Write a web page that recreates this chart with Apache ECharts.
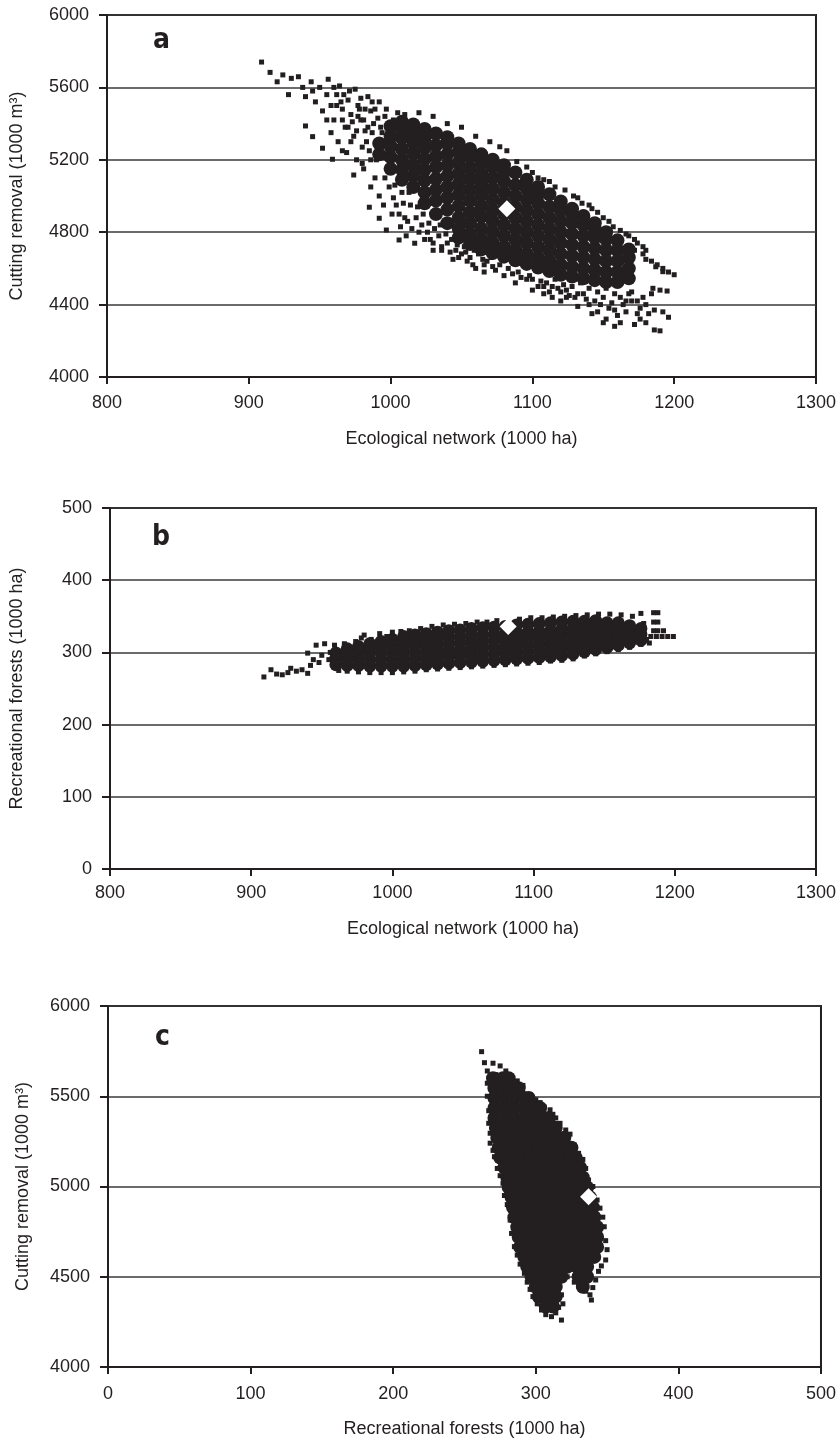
<!DOCTYPE html>
<html><head><meta charset="utf-8">
<script src="https://cdn.jsdelivr.net/npm/echarts@6/dist/echarts.min.js"></script>
<style>html,body{margin:0;padding:0;background:#fff}#c{width:839px;height:1441px}</style>
</head><body><div id="c"></div>
<script>
// ---------- tick labels ----------
const xTicksEco = [800, 900, 1000, 1100, 1200, 1300];
const yTicksCutA = [4000, 4400, 4800, 5200, 5600, 6000];
const yTicksRec = [0, 100, 200, 300, 400, 500];
const xTicksRec = [0, 100, 200, 300, 400, 500];
const yTicksCutC = [4000, 4500, 5000, 5500, 6000];
const panelLetters = ['a', 'b', 'c'];
const xNames = ['Ecological network (1000 ha)', 'Ecological network (1000 ha)', 'Recreational forests (1000 ha)'];
const yNames = ['Cutting removal (1000 m³)', 'Recreational forests (1000 ha)', 'Cutting removal (1000 m³)'];

// ---------- reference points (white diamonds) ----------
const refA = [[1082, 4930]];
const refB = [[1082, 336]];
const refC = [[337, 4943]];

// ---------- panel a : ecological network vs cutting removal ----------
// dense core, read column by column: [x, [y values]]
const aDenseCols = [
  [992, [5230, 5290]],
  [1000, [5150, 5215, 5275, 5330, 5385]],
  [1008, [5090, 5145, 5200, 5260, 5320, 5370, 5410]],
  [1016, [5050, 5110, 5170, 5235, 5295, 5350, 5395]],
  [1024, [4960, 5020, 5085, 5145, 5205, 5265, 5320, 5370]],
  [1032, [4900, 4975, 5035, 5095, 5160, 5220, 5280, 5345]],
  [1040, [4850, 4925, 4990, 5050, 5110, 5170, 5230, 5290, 5325]],
  [1048, [4770, 4820, 4880, 4945, 5005, 5065, 5125, 5185, 5245, 5290]],
  [1056, [4735, 4790, 4850, 4910, 4975, 5035, 5095, 5155, 5215, 5260]],
  [1064, [4705, 4760, 4820, 4885, 4945, 5005, 5065, 5125, 5185, 5230]],
  [1072, [4685, 4740, 4800, 4860, 4920, 4980, 5040, 5100, 5160, 5200]],
  [1080, [4665, 4720, 4780, 4840, 4900, 4960, 5020, 5080, 5130, 5170]],
  [1088, [4645, 4700, 4760, 4820, 4880, 4940, 5000, 5060, 5130]],
  [1096, [4625, 4680, 4740, 4800, 4860, 4920, 4980, 5040, 5090]],
  [1104, [4605, 4660, 4720, 4780, 4840, 4900, 4960, 5010, 5050]],
  [1112, [4585, 4640, 4700, 4760, 4820, 4880, 4940, 5010]],
  [1120, [4565, 4620, 4680, 4740, 4800, 4860, 4920, 4970]],
  [1128, [4555, 4610, 4670, 4730, 4790, 4850, 4900, 4930]],
  [1136, [4545, 4600, 4660, 4720, 4780, 4840, 4890]],
  [1144, [4535, 4590, 4650, 4710, 4770, 4820, 4850]],
  [1152, [4525, 4580, 4640, 4700, 4760, 4800]],
  [1160, [4525, 4580, 4640, 4700, 4755]],
  [1168, [4545, 4600, 4660, 4705]]
];
// scattered outer points
const aSparse = [
  [909,5740],[915,5683],[920,5631],[924,5669],[928,5560],[930,5650],[935,5659],[938,5600],[940,5549],[944,5631],
  [945,5580],[947,5520],[950,5600],[952,5470],[955,5560],[956,5645],[958,5500],[960,5420],[962,5560],[964,5608],
  [966,5480],[968,5380],[970,5530],[972,5450],[974,5330],[975,5590],[977,5500],[979,5420],[980,5270],[982,5360],
  [984,5549],[986,5470],[988,5400],[990,5300],[992,5520],[994,5220],[996,5440],[998,5160],[940,5387],[945,5328],
  [952,5264],[959,5203],[966,5250],[974,5116],[980,5180],[986,5050],[985,4938],[992,4877],[997,4812],[1002,4990],
  [1006,4757],[1010,4880],[1017,4739],[1020,4800],[1024,4760],[1030,4700],[1036,4720],[1044,4650],[1050,4680],
  [1058,4620],[1066,4580],[1072,4610],[1080,4560],[1088,4520],[1096,4540],[1100,4480],[1108,4460],[1114,4500],
  [1120,4420],[1126,4450],[1132,4390],[1138,4430],[1142,4350],[1148,4400],[1152,4320],[1158,4370],[1162,4300],
  [1166,4420],[1172,4290],[1176,4380],[1182,4350],[1186,4260],[1190,4255],[1196,4330],[1178,4440],[1170,4470],
  [1184,4460],[1190,4480],[1180,4650],[1184,4640],[1188,4620],[1192,4600],[1196,4580],[1200,4565],[1178,4680],
  [1172,4700],[1185,4490],[1195,4475],[1010,5450],[1020,5460],[1030,5440],[1040,5400],[1050,5380],[1060,5330],
  [1070,5300],[1077,5272],[1082,5250],[1089,5190],[1096,5160],[1104,5100],[1112,5080],[1123,5033],[1129,5000],
  [1135,4960],[1142,4930],[1150,4880],[1157,4830],[1162,4810],[1168,4780],[1174,4740],[1180,4700],[1187,4609],
  [1192,4582],[962,5500],[966,5420],[970,5380],[972,5300],[976,5360],[978,5480],[981,5420],[983,5300],[985,5250],
  [987,5350],[989,5480],[990,5200],[993,5380],[995,5300],[996,5100],[998,5250],[999,5050],[1002,5420],[1004,4950],
  [1006,4900],[1008,5020],[1012,4860],[1014,4950],[1018,4880],[1022,4840],[1026,4800],[1028,4760],[1034,4780],
  [1040,4740],[1046,4700],[1052,4720],[1056,4660],[1062,4680],[1068,4640],
  [955,5420],[958,5350],[960,5600],[963,5300],[965,5520],[967,5560],[969,5240],[971,5580],[973,5410],[976,5200],
  [977,5440],[979,5540],[981,5150],[982,5480],[984,5380],[986,5200],[987,5520],[989,5100],[991,5430],[992,5000],
  [994,5350],[995,4950],[997,5480],[999,5380],[1001,4900],[1003,5060],[1005,5460],[1007,4830],[1009,4960],[1011,4780],
  [1013,5020],[1015,4820],[1019,4940],[1023,4900],[1027,4850],[1031,4820],[1035,4840],[1039,4790],[1043,4760],[1047,4730],
  [1053,4690],[1059,4700],[1065,4650],[1071,4660],[1077,4620],[1083,4600],[1090,4580],[1098,4560],[1106,4530],[1112,4470],
  [1118,4490],[1124,4480],[1130,4440],[1136,4460],[1144,4420],[1150,4440],[1156,4410],[1164,4400],[1170,4420],[1174,4350],
  [1100,5130],[1108,5090],[1116,5050],[1132,4990],[1140,4950],[1146,4910],[1154,4860],[1166,4790],[1172,4760],[1178,4720],
  [1100,4540],[1104,4500],[1110,4520],[1116,4540],[1122,4510],[1128,4500],[1134,4520],[1140,4490],[1146,4470],[1152,4490],
  [1158,4460],[1162,4440],[1168,4460],[1174,4420],[1180,4400],[1186,4370],[1192,4360],[1124,4440],[1132,4460],[1140,4400],
  [1146,4360],[1154,4380],[1160,4340],[1166,4360],[1176,4320],[1180,4300],[1150,4300],[1158,4280],[1120,4470],[1114,4440],
  [1108,4500],[1092,4550],[1086,4570],[1074,4590],[1066,4620],[1060,4600],[1054,4640],[1048,4660],[1042,4690],[1036,4700],
  [1030,4740]
];

// ---------- panel b : ecological network vs recreational forests ----------
const bDenseCols = [
  [960, [283, 292, 299]],
  [968, [282, 291, 300, 305]],
  [976, [282, 291, 300, 308]],
  [984, [281, 290, 299, 307, 312]],
  [992, [281, 290, 299, 308, 315]],
  [1000, [281, 290, 299, 308, 318]],
  [1008, [281, 290, 299, 308, 316, 322]],
  [1016, [282, 291, 300, 309, 317, 324]],
  [1024, [283, 292, 301, 310, 318, 326]],
  [1032, [284, 293, 302, 311, 320, 328]],
  [1040, [285, 294, 303, 312, 321, 330]],
  [1048, [286, 295, 304, 313, 322, 331]],
  [1056, [287, 296, 305, 314, 323, 333]],
  [1064, [288, 297, 306, 315, 324, 334]],
  [1072, [289, 298, 307, 316, 325, 335]],
  [1080, [290, 299, 308, 317, 326, 336]],
  [1088, [291, 300, 309, 318, 327, 338]],
  [1096, [292, 301, 310, 319, 328, 339]],
  [1104, [293, 302, 311, 320, 329, 340]],
  [1112, [294, 303, 312, 321, 330, 341]],
  [1120, [296, 305, 314, 323, 332, 342]],
  [1128, [298, 307, 316, 325, 334, 343]],
  [1136, [301, 310, 319, 328, 336, 343]],
  [1144, [304, 313, 322, 331, 339, 344]],
  [1152, [307, 316, 325, 333, 341]],
  [1160, [310, 319, 327, 335, 341]],
  [1168, [313, 321, 329, 337]],
  [1176, [317, 325, 333]]
];
const bSparse = [
  [909,266],[914,276],[918,270],[922,269],[926,272],[928,278],[932,274],[936,276],[940,271],[940,299],
  [942,282],[946,310],[948,286],[952,312],[955,290],[959,310],[962,275],[966,312],[970,306],[974,315],
  [978,320],[980,324],[985,318],[991,326],[996,322],[1000,328],[1006,329],[1012,330],[1020,333],[1028,336],
  [1036,338],[1044,339],[1052,340],[1060,342],[1067,342],[1074,344],[1090,346],[1098,348],[1106,348],[1114,349],
  [1122,350],[1130,351],[1138,352],[1146,353],[1154,353],[1162,352],[1170,350],[1176,354],[1185,355],[1188,355],
  [1185,342],[1188,342],[1185,330],[1188,330],[1192,330],[1183,322],[1187,322],[1191,322],[1195,322],[1199,322],
  [1180,318],[1172,320],[1178,340],[1182,313],[968,274],[976,273],[984,272],[992,272],[1000,272],[1008,273],
  [1016,274],[1024,276],[1032,277],[1040,278],[1048,279],[1056,280],[1064,281],[1072,282],[1080,283],[1088,284],
  [1096,285],[1104,286],[1112,288],[1120,289],[1128,291],[1136,295],[1144,298],[1152,301],[1160,304],[1168,307],
  [1176,311],[950,296],[956,300],[944,290]
];

// ---------- panel c : recreational forests vs cutting removal ----------
// dense core, read row by row: [y, [x values]]
const cDenseRows = [
  [5600, [270, 277, 281]],
  [5545, [271, 278, 285, 288]],
  [5490, [271, 278, 285, 292, 295]],
  [5435, [271, 278, 285, 292, 299, 303]],
  [5380, [271, 278, 285, 292, 299, 305, 309]],
  [5325, [272, 279, 286, 293, 300, 307, 314]],
  [5270, [273, 280, 287, 294, 301, 308, 315, 320]],
  [5215, [274, 281, 288, 295, 302, 309, 316, 323, 325]],
  [5160, [275, 282, 289, 296, 303, 310, 317, 324, 328]],
  [5105, [278, 285, 292, 299, 306, 313, 320, 327, 331]],
  [5050, [280, 287, 294, 301, 308, 315, 322, 329, 333]],
  [4995, [281, 288, 295, 302, 309, 316, 323, 330, 336]],
  [4940, [283, 290, 297, 304, 311, 318, 325, 332, 338]],
  [4885, [284, 291, 298, 305, 312, 319, 326, 333, 340]],
  [4830, [285, 292, 299, 306, 313, 320, 327, 334, 341]],
  [4775, [287, 294, 301, 308, 315, 322, 329, 336, 343]],
  [4720, [288, 295, 302, 309, 316, 323, 330, 337, 343]],
  [4665, [289, 296, 303, 310, 317, 324, 331, 338, 343]],
  [4610, [292, 299, 306, 313, 320, 327, 334, 341]],
  [4555, [294, 301, 308, 315, 322, 329, 336]],
  [4500, [297, 304, 311, 318, 330, 336]],
  [4445, [300, 307, 314, 333]],
  [4390, [302, 309, 314]],
  [4335, [307, 312]]
];
const cSparse = [
  [262,5747],[264,5686],[270,5683],[275,5668],[266,5640],[268,5600],[272,5620],[279,5640],[283,5600],[287,5585],
  [291,5560],[296,5510],[300,5480],[303,5465],[306,5440],[310,5425],[312,5400],[314,5380],[317,5350],[321,5313],
  [324,5290],[327,5230],[330,5184],[333,5150],[335,5100],[337,5036],[340,5000],[343,4925],[345,4880],[347,4830],
  [348,4777],[349,4700],[350,4650],[349,4593],[346,4560],[344,4530],[342,4482],[340,4440],[338,4400],[339,4371],
  [335,4420],[330,4450],[327,4470],[322,4500],[266,5572],[266,5500],[267,5420],[267,5350],[268,5295],[268,5240],
  [270,5200],[271,5165],[273,5100],[275,5060],[277,5018],[278,4950],[280,4900],[282,4814],[283,4740],[285,4667],
  [287,4620],[289,4570],[292,4519],[294,4470],[296,4430],[298,4390],[301,4350],[304,4316],[307,4290],[311,4279],
  [314,4300],[318,4260],[316,4330],[319,4350],[318,4400]
];

// ---------- build ----------
const flatCols = cols => cols.flatMap(([x, ys]) => ys.map(y => [x, y]));
const flatRows = rows => rows.flatMap(([y, xs]) => xs.map(x => [x, y]));

const INK = '#231f20';
const FONT = '"Liberation Sans", Arial, sans-serif';
const grids = [
  { left: 106, top: 15, width: 711, height: 362 },
  { left: 107, top: 508, width: 713, height: 361 },
  { left: 108, top: 1006, width: 714, height: 361 }
];
const xDefs = [xTicksEco, xTicksEco, xTicksRec];
const yDefs = [yTicksCutA, yTicksRec, yTicksCutC];
const xLabelMargin = [17, 15, 18];
const xNameGap = [53, 51, 53];
const yNameGap = [81, 84, 76];
const plain = v => String(v);

function xAxis(i) {
  const t = xDefs[i];
  return {
    gridIndex: i, type: 'value', min: t[0], max: t[t.length - 1], interval: t[1] - t[0],
    name: xNames[i], nameLocation: 'middle', nameGap: xNameGap[i],
    nameTextStyle: { color: INK, fontSize: 18, fontFamily: FONT },
    axisLine: { show: true, lineStyle: { color: INK, width: 2 } },
    axisTick: { show: true, length: 7, lineStyle: { color: INK, width: 2 } },
    axisLabel: { color: INK, fontSize: 18, fontFamily: FONT, margin: xLabelMargin[i], formatter: plain },
    splitLine: { show: false }
  };
}
function yAxis(i) {
  const t = yDefs[i];
  return {
    gridIndex: i, type: 'value', min: t[0], max: t[t.length - 1], interval: t[1] - t[0],
    name: yNames[i], nameLocation: 'middle', nameGap: yNameGap[i],
    nameTextStyle: { color: INK, fontSize: 18, fontFamily: FONT },
    axisLine: { show: true, lineStyle: { color: INK, width: 2 } },
    axisTick: { show: true, length: 8, lineStyle: { color: INK, width: 2 } },
    axisLabel: { color: INK, fontSize: 18, fontFamily: FONT, margin: 18, formatter: plain },
    splitLine: { show: true, lineStyle: { color: '#3a3a3a', width: 1.5 } }
  };
}
const dense = [flatCols(aDenseCols), flatCols(bDenseCols), flatRows(cDenseRows)];
const sparse = [aSparse, bSparse, cSparse];
const refs = [refA, refB, refC];
const denseSize = [14, 13, 14];
const series = [];
for (let i = 0; i < 3; i++) {
  series.push({ type: 'scatter', xAxisIndex: i, yAxisIndex: i, data: dense[i], symbol: 'circle',
    symbolSize: denseSize[i], itemStyle: { color: INK, opacity: 1 }, silent: true, animation: false, z: 2 });
  series.push({ type: 'scatter', xAxisIndex: i, yAxisIndex: i, data: sparse[i], symbol: 'rect',
    symbolSize: 5, itemStyle: { color: INK, opacity: 1 }, silent: true, animation: false, z: 3 });
  series.push({ type: 'scatter', xAxisIndex: i, yAxisIndex: i, data: refs[i], symbol: 'diamond',
    symbolSize: 17, itemStyle: { color: '#ffffff', opacity: 1 }, silent: true, animation: false, z: 5 });
}
const letterPos = [[153, 27], [152, 524], [155, 1024]];
const graphic = panelLetters.map((t, i) => ({
  type: 'text', left: letterPos[i][0], top: letterPos[i][1], z: 10,
  style: { text: t, fill: INK, font: 'bold 28px "Liberation Sans Narrow", "DejaVu Sans Condensed", sans-serif' }
}));

const chart = echarts.init(document.getElementById('c'), null, { renderer: 'canvas' });
chart.setOption({
  backgroundColor: '#ffffff',
  animation: false,
  grid: grids.map(g => Object.assign({ show: true, borderColor: INK, borderWidth: 2, backgroundColor: 'transparent' }, g)),
  xAxis: [0, 1, 2].map(xAxis),
  yAxis: [0, 1, 2].map(yAxis),
  series: series,
  graphic: graphic
});
</script>
</body></html>
